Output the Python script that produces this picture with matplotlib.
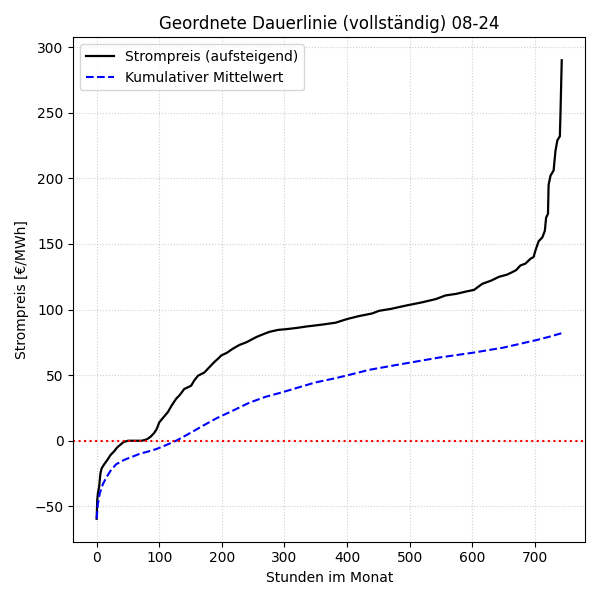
import numpy as np
import matplotlib
matplotlib.use("Agg")
import matplotlib.pyplot as plt

stunden = [0, 1, 2, 4, 6, 8, 12, 18, 22, 28, 33, 38, 43, 50, 72, 80, 86, 92, 96,
           100, 107, 114, 120, 127, 133, 140, 147, 151, 156, 162, 172, 180, 188,
           195, 199, 208, 217, 228, 239, 247, 255, 265, 276, 290, 302, 320, 334,
           360, 382, 395, 402, 419, 440, 451, 470, 494, 520, 542, 557, 575, 590,
           603, 616, 630, 643, 655, 664, 670, 677, 685, 693, 698, 701, 706, 712,
           716, 718, 721, 722, 725, 730, 733, 736, 740, 741, 743]
preis = [-59.5, -45, -40, -35, -25, -21, -18, -14, -11, -8, -5, -3, -1, 0, 0, 1,
         3, 6, 9, 14, 18, 22, 27, 32, 35, 39.5, 41, 42, 46, 49.6, 52, 56, 60, 63,
         65, 67, 70, 73, 75, 77, 79, 81, 83, 84.5, 85, 86, 87, 88.5, 90, 92, 93,
         95, 97, 99, 100.5, 103, 105.5, 108, 110.7, 112, 113.7, 115, 119.6, 122,
         125, 126.5, 128.5, 130, 133.6, 135, 138.7, 140, 145, 152, 155, 160, 170,
         173, 195, 202, 206, 221, 229, 232, 250, 290]

# kumulativer Mittelwert
stunden_mw = [0, 2, 5, 10, 15.5, 22, 31, 40, 47, 58, 68.6, 80, 95, 110, 127, 150,
              170, 191, 220, 244, 270, 297, 325, 350, 380, 402, 435, 470, 500,
              547, 600, 650, 705, 725, 743]
mittelwert = [-59.5, -48, -40, -33, -28, -23, -18, -15.5, -14, -12, -10, -8.5,
              -6.4, -3.5, 0, 6, 11.5, 17, 23.5, 29, 33.5, 37, 41, 44.5, 47.5, 50,
              54, 57, 59.5, 63.4, 67, 71, 77, 79.5, 82]

fig, ax = plt.subplots(figsize=(6, 6), dpi=100)
ax.plot(stunden, preis, color='black', linewidth=1.6, label='Strompreis (aufsteigend)')
ax.plot(stunden_mw, mittelwert, color='blue', linestyle='--', linewidth=1.5, label='Kumulativer Mittelwert')
ax.axhline(0, color='red', linestyle=':', linewidth=1.5)
ax.set_xlabel("Stunden im Monat")
ax.set_ylabel("Strompreis [€/MWh]")
ax.set_title("Geordnete Dauerlinie (vollständig) 08-24")
ax.legend(loc='upper left')
ax.grid(True, linestyle=':', alpha=0.6)
plt.tight_layout()
plt.savefig("out.png")
